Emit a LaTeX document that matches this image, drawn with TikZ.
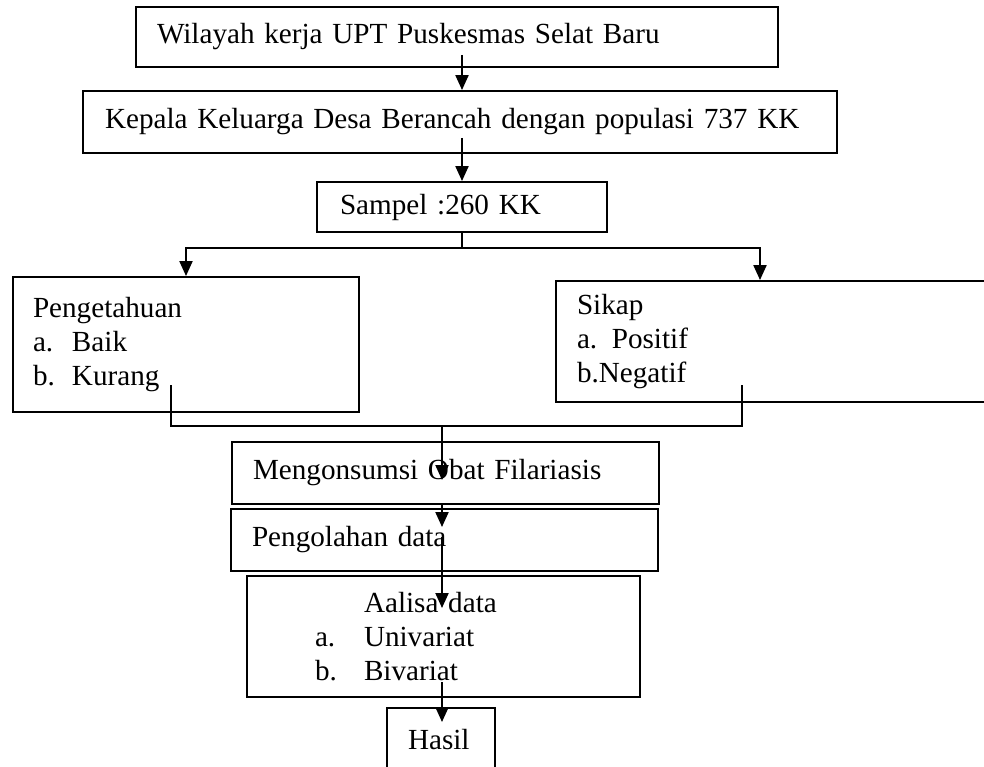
\documentclass[tikz,border=0pt]{standalone}
\usepackage{fontspec}
\setmainfont{Liberation Serif}
\usepackage{tikz}
\usetikzlibrary{positioning,arrows.meta}
\newlength{\pxu}
\setlength{\pxu}{0.02cm}

\begin{document}
\begin{tikzpicture}[
  x=0.02cm, y=-0.02cm,
  box/.style={draw, rectangle, line width=1.1pt, align=left, inner ysep=0pt,
    font=\fontsize{16.6}{19.2}\selectfont},
  arr/.style={line width=1.1pt, -{Triangle[length=8.5pt, width=7.4pt]}},
  link/.style={line width=1pt}
]
\clip (0,0) rectangle (984,767);

% Main boxes
\node[box, text width=600\pxu, inner xsep=21\pxu, minimum height=60\pxu] (wil) at (457,37) {Wilayah kerja UPT Puskesmas Selat Baru};
\node[box, text width=710\pxu, inner xsep=22\pxu, minimum height=62\pxu] (kep) at (460,122) {Kepala Keluarga Desa Berancah dengan populasi 737 KK};
\node[box, text width=244\pxu, inner xsep=23\pxu, minimum height=50\pxu] (samp) at (462,207) {Sampel :260 KK};

% Variables
\node[box, text width=306\pxu, inner xsep=20\pxu, minimum height=135\pxu] (peng) at (186,344.5)
  {Pengetahuan\\ \makebox[39\pxu][l]{a.}Baik\\ \makebox[39\pxu][l]{b.}Kurang};
\node[box, text width=402\pxu, inner xsep=21\pxu, minimum height=121\pxu] (sikap) at (778,341.5)
  {Sikap\\ a. Positif\\ b.Negatif};

% Processing
\node[box, text width=385\pxu, inner xsep=21\pxu, minimum height=62\pxu] (mong) at (445.5,473) {Mengonsumsi Obat Filariasis};
\node[box, text width=385\pxu, inner xsep=21\pxu, minimum height=62\pxu] (olah) at (444.5,540) {Pengolahan data};
\node[box, text width=257\pxu, inner xsep=68\pxu, minimum height=121\pxu] (anal) at (443.5,636.5)
  {\hspace*{49\pxu}Aalisa data\\ \makebox[49\pxu][l]{a.}Univariat\\ \makebox[49\pxu][l]{b.}Bivariat};
\node[box, text width=66\pxu, inner xsep=21\pxu, minimum height=64\pxu] (hasil) at (441,740) {Hasil};

% Arrows down the top
\coordinate (wilOut) at (462,55);
\draw[arr] (wilOut) -- (wilOut |- kep.north);
\coordinate (kepOut) at (462,138);
\draw[arr] (kepOut) -- (kepOut |- samp.north);

% Split to the two variables
\coordinate (split) at (462,248);
\coordinate (splitR) at (760,248);
\draw[line width=1.1pt] (samp.south) -- (split);
\draw[arr] (split) -| (peng.north);
\draw[arr] (split) -- (splitR) -- (splitR |- sikap.north);

% Join back
\coordinate (kurEnd) at (171,385);
\coordinate (negEnd) at (742,385);
\coordinate (join) at (442,426);
\draw[link] (kurEnd) |- (join) -| (negEnd);
\coordinate (mongTip) at (442,480);
\draw[arr] (join) -- (mongTip);

% Arrows down the bottom
\coordinate (olahTip) at (442,527);
\draw[arr] (mong.south -| olahTip) -- (olahTip);
\coordinate (olahOut) at (442,537);
\coordinate (analTip) at (442,608);
\draw[arr] (olahOut) -- (analTip);
\coordinate (analOut) at (442,682);
\coordinate (hasilTip) at (442,722);
\draw[arr] (analOut) -- (hasilTip);

\end{tikzpicture}
\end{document}
